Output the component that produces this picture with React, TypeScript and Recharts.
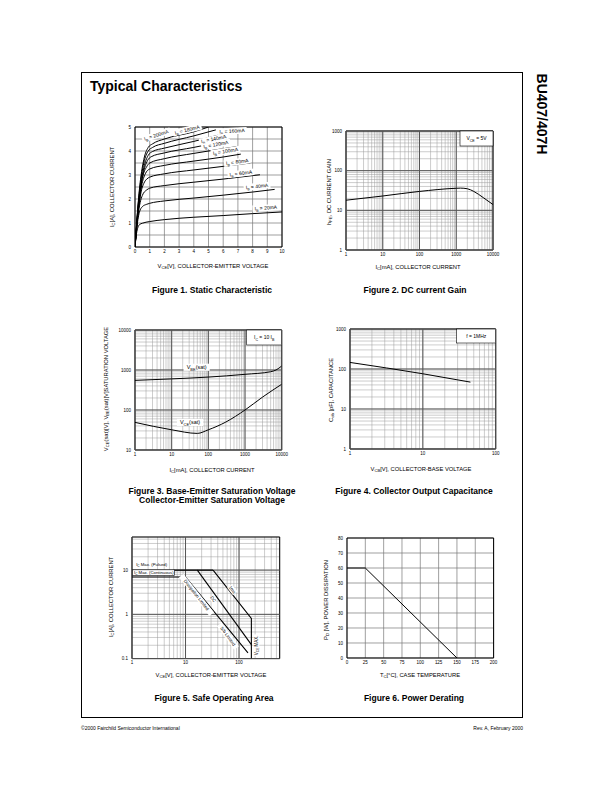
import React from 'react';
import { LineChart, Line, XAxis, YAxis, CartesianGrid, ReferenceLine, ReferenceDot, ReferenceArea } from 'recharts';

const FONT = '"Liberation Sans", Arial, Helvetica, sans-serif';

// ---------------- Figure 1: Static Characteristic ----------------
const fig1VceTicks = [0, 1, 2, 3, 4, 5, 6, 7, 8, 9, 10];
const fig1IcGrid = [0, 0.5, 1, 1.5, 2, 2.5, 3, 3.5, 4, 4.5, 5];
const fig1IcLabels = [0, 1, 2, 3, 4, 5];

const ib20 = [[0, 0], [0.1, 0.55], [0.2, 0.82], [0.3, 0.93], [0.5, 0.99], [1, 1.06], [2, 1.14], [4, 1.24], [6, 1.31], [8, 1.39], [10, 1.46]];
const ib40 = [[0, 0], [0.1, 0.65], [0.2, 1.15], [0.3, 1.45], [0.5, 1.68], [0.8, 1.78], [1, 1.82], [2, 1.92], [4, 2.04], [6, 2.16], [8, 2.29], [9.5, 2.4]];
const ib60 = [[0, 0], [0.1, 0.7], [0.2, 1.3], [0.35, 1.85], [0.5, 2.15], [0.8, 2.38], [1, 2.45], [2, 2.56], [4, 2.7], [6, 2.83], [8.5, 3.01]];
const ib80 = [[0, 0], [0.1, 0.75], [0.25, 1.6], [0.4, 2.25], [0.6, 2.65], [0.8, 2.83], [1, 2.91], [2, 3.05], [4, 3.21], [6, 3.36], [7.85, 3.5]];
const ib100 = [[0, 0], [0.1, 0.8], [0.25, 1.7], [0.45, 2.55], [0.7, 3.05], [1, 3.25], [2, 3.4], [4, 3.58], [6, 3.75], [7.2, 3.87]];
const ib120 = [[0, 0], [0.1, 0.8], [0.3, 2.0], [0.5, 2.85], [0.8, 3.35], [1, 3.5], [2, 3.68], [4, 3.9], [6.9, 4.18]];
const ib140 = [[0, 0], [0.1, 0.85], [0.3, 2.1], [0.55, 3.05], [0.85, 3.6], [1.1, 3.76], [2, 3.92], [4, 4.15], [6.4, 4.45]];
const ib160 = [[0, 0], [0.1, 0.85], [0.3, 2.2], [0.6, 3.3], [0.9, 3.82], [1.2, 3.98], [2, 4.12], [4, 4.4], [5.9, 4.7]];
const ib180 = [[0, 0], [0.1, 0.9], [0.3, 2.3], [0.6, 3.5], [0.9, 4.0], [1.2, 4.15], [2, 4.32], [4, 4.63], [5.5, 4.88]];
const ib200 = [[0, 0], [0.1, 0.9], [0.3, 2.4], [0.6, 3.65], [0.9, 4.15], [1.2, 4.3], [2, 4.5], [4, 4.8], [5.0, 5.0]];
const fig1Series = [ib20, ib40, ib60, ib80, ib100, ib120, ib140, ib160, ib180, ib200];

const fig1Tags = [
  { text: 'I_{B} = 200mA', x: 1.45, y: 4.66, angle: -18 },
  { text: 'I_{B} = 180mA', x: 3.55, y: 4.88, angle: -14 },
  { text: 'I_{B} = 160mA', x: 6.6, y: 4.83, angle: -3 },
  { text: 'I_{B} = 140mA', x: 5.35, y: 4.5, angle: -12 },
  { text: 'I_{B} = 120mA', x: 5.5, y: 4.27, angle: -10 },
  { text: 'I_{B} = 100mA', x: 6.15, y: 3.99, angle: -9 },
  { text: 'I_{B} = 80mA', x: 6.95, y: 3.55, angle: -8 },
  { text: 'I_{B} = 60mA', x: 7.2, y: 3.07, angle: -7 },
  { text: 'I_{B} = 40mA', x: 8.3, y: 2.53, angle: -6 },
  { text: 'I_{B} = 20mA', x: 8.9, y: 1.63, angle: -4 },
];

// ---------------- Figure 2: DC current gain ----------------
const fig2IcLabels = [1, 10, 100, 1000, 10000];
const fig2HfeLabels = [1, 10, 100, 1000];
const fig2Hfe = [[1, 18], [10, 23], [100, 30], [1000, 36], [1300, 36.3], [2000, 35], [3000, 30], [5400, 21], [10000, 14]];

// ---------------- Figure 3: Saturation voltages ----------------
const fig3IcLabels = [1, 10, 100, 1000, 10000];
const fig3VLabels = [10, 100, 1000, 10000];
const fig3Vbe = [[1, 550], [10, 600], [100, 665], [1000, 780], [5000, 905], [7000, 1000], [10000, 1260]];
const fig3Vce = [[1, 49], [10, 32], [50, 26], [100, 32], [300, 50], [1000, 100], [3000, 210], [10000, 440]];

// ---------------- Figure 4: Output capacitance ----------------
const fig4VcbLabels = [1, 10, 100];
const fig4CobLabels = [1, 10, 100, 1000];
const fig4Cob = [[1, 146], [10, 76], [45, 47]];

// ---------------- Figure 5: Safe operating area ----------------
const fig5VceLabels = [1, 10, 100];
const fig5IcLabels = [0.1, 1, 10];
const soaDc = [[1, 7], [10, 7], [147, 0.134]];
const soaPulsedMax = [[6, 10], [32.7, 10]];
const soaMid = [[16.6, 10], [170, 0.207]];
const soaRight = [[32.7, 10], [170, 0.805], [170, 0.1]];

// ---------------- Figure 6: Power derating ----------------
const fig6TcTicks = [0, 25, 50, 75, 100, 125, 150, 175, 200];
const fig6PdTicks = [0, 10, 20, 30, 40, 50, 60, 70, 80];
const fig6Pd = [[0, 60], [25, 60], [150, 0]];

// ---------------- helpers ----------------
const pts = (arr: number[][]) => arr.map(([x, y]) => ({ x, y }));

function logTicks(lo: number, hi: number) {
  const out: number[] = [];
  for (let e = Math.floor(Math.log10(lo)); e <= Math.ceil(Math.log10(hi)); e++) {
    const d = Math.pow(10, e);
    for (let m = 1; m <= 9; m++) {
      const v = Number((d * m).toPrecision(6));
      if (v >= lo * 0.9999 && v <= hi * 1.0001) out.push(v);
    }
  }
  return out;
}

function svgRich(s: string, fs: number) {
  const parts = s.split(/_\{([^}]*)\}/);
  const nodes: any[] = [];
  let low = false;
  parts.forEach((p, i) => {
    if (!p) return;
    const isSub = i % 2 === 1;
    let dy: number | undefined;
    if (isSub && !low) { dy = fs * 0.3; low = true; }
    else if (!isSub && low) { dy = -fs * 0.3; low = false; }
    nodes.push(<tspan key={i} dy={dy} fontSize={isSub ? fs * 0.72 : fs}>{p}</tspan>);
  });
  return nodes;
}

function htmlRich(s: string) {
  const parts = s.split(/_\{([^}]*)\}/);
  return parts.map((p, i) =>
    i % 2 ? <span key={i} style={{ fontSize: '0.72em', position: 'relative', top: '0.3em' }}>{p}</span> : <span key={i}>{p}</span>
  );
}

const plainLen = (s: string) => s.replace(/_\{|\}/g, '').length;

type TagOpt = { angle?: number; fs?: number; box?: boolean; border?: boolean; anchor?: 'start' | 'middle'; w?: number; h?: number };
function makeTag(text: string, o: TagOpt = {}) {
  return (p: any) => {
    const cx = p.cx, cy = p.cy;
    if (cx == null || cy == null || isNaN(cx) || isNaN(cy)) return <g />;
    const fs = o.fs ?? 5;
    const w = o.w ?? plainLen(text) * fs * 0.55 + 2;
    const h = o.h ?? fs * 1.3;
    const anchor = o.anchor ?? 'middle';
    const rx = anchor === 'middle' ? cx - w / 2 : cx;
    const tx = anchor === 'middle' ? cx : cx + 1.5;
    return (
      <g transform={`rotate(${o.angle ?? 0} ${cx} ${cy})`}>
        {o.box !== false && (
          <rect x={rx} y={cy - h / 2} width={w} height={h} fill="#fff" stroke={o.border ? '#000' : 'none'} strokeWidth={0.6} />
        )}
        <text x={tx} y={cy} dy={fs * 0.35} textAnchor={anchor} fontSize={fs} fontFamily={FONT} fill="#000">
          {svgRich(text, fs)}
        </text>
      </g>
    );
  };
}

type PlotProps = {
  rect: [number, number, number, number];
  xDomain: [number, number];
  yDomain: [number, number];
  xLog?: boolean;
  yLog?: boolean;
  xTicks: number[];
  yTicks: number[];
  xLabels: number[];
  yLabels: number[];
  xMajor?: number[];
  yMajor?: number[];
  gridColor?: string;
  gridWidth?: number;
  children?: React.ReactNode;
};

function Plot(p: PlotProps) {
  const [x0, y0, x1, y1] = p.rect;
  const YW = 24, XH = 14, MT = 4, MR = 14;
  const w = x1 - x0 + YW + MR;
  const h = y1 - y0 + MT + XH;
  const tickStyle = { fontSize: 4.5, fill: '#000', fontFamily: FONT };
  return (
    <div style={{ position: 'absolute', left: x0 - YW, top: y0 - MT }}>
      <LineChart width={w} height={h} margin={{ top: MT, right: MR, bottom: 0, left: 0 }}>
        <CartesianGrid stroke={p.gridColor ?? '#9a9a9a'} strokeWidth={p.gridWidth ?? 0.5} />
        {(p.xMajor ?? []).map((v) => (
          <ReferenceLine key={'xm' + v} x={v} stroke="#555" strokeWidth={1} />
        ))}
        {(p.yMajor ?? []).map((v) => (
          <ReferenceLine key={'ym' + v} y={v} stroke="#555" strokeWidth={1} />
        ))}
        <XAxis
          type="number"
          dataKey="x"
          scale={p.xLog ? 'log' : 'linear'}
          domain={p.xDomain}
          ticks={p.xTicks}
          interval={0}
          allowDataOverflow
          tickFormatter={(v: number) => (p.xLabels.includes(v) ? String(v) : '')}
          tick={tickStyle}
          tickLine={false}
          axisLine={false}
          tickSize={1}
          tickMargin={1.5}
          height={XH}
        />
        <YAxis
          type="number"
          dataKey="y"
          scale={p.yLog ? 'log' : 'linear'}
          domain={p.yDomain}
          ticks={p.yTicks}
          interval={0}
          allowDataOverflow
          tickFormatter={(v: number) => (p.yLabels.includes(v) ? String(v) : '')}
          tick={tickStyle}
          tickLine={false}
          axisLine={false}
          tickSize={1}
          tickMargin={3}
          width={YW}
        />
        {p.children}
        <ReferenceArea
          x1={p.xDomain[0]}
          x2={p.xDomain[1]}
          y1={p.yDomain[0]}
          y2={p.yDomain[1]}
          fill="none"
          fillOpacity={0}
          stroke="#000"
          strokeWidth={1}
          ifOverflow="visible"
        />
      </LineChart>
    </div>
  );
}

const line = (key: string, data: number[][], type: any = 'monotone', width = 1) => (
  <Line
    key={key}
    data={pts(data)}
    dataKey="y"
    type={type}
    stroke="#000"
    strokeWidth={width}
    dot={false}
    activeDot={false}
    isAnimationActive={false}
  />
);

const dotTag = (key: string, x: number, y: number, text: string, o: TagOpt) => (
  <ReferenceDot key={key} x={x} y={y} r={0} ifOverflow="visible" shape={makeTag(text, o)} {...({ zIndex: 2500 } as any)} />
);

function T({ x, y, s, fs, bold, align = 'center', rot }: { x: number; y: number; s: string; fs: number; bold?: boolean; align?: 'left' | 'center' | 'right'; rot?: number }) {
  const tx = align === 'center' ? '-50%' : align === 'right' ? '-100%' : '0';
  return (
    <div
      style={{
        position: 'absolute',
        left: x,
        top: y,
        transform: `translate(${tx},-50%)${rot ? ` rotate(${rot}deg)` : ''}`,
        fontSize: fs,
        fontWeight: bold ? 700 : 400,
        whiteSpace: 'nowrap',
        lineHeight: 1,
        fontFamily: FONT,
        color: '#000',
      }}
    >
      {htmlRich(s)}
    </div>
  );
}

export default function App() {
  const f2x = logTicks(1, 10000);
  const f2y = logTicks(1, 1000);
  const f3x = logTicks(1, 10000);
  const f3y = logTicks(10, 10000);
  const f4x = logTicks(1, 100);
  const f4y = logTicks(1, 1000);
  const f5x = logTicks(1, 575);
  const f5y = logTicks(0.1, 56);
  const AX = 5.8;
  const CAP = 8.5;

  return (
    <div style={{ position: 'absolute', left: 0, top: 0, width: 612, height: 792, background: '#fff', fontFamily: FONT, overflow: 'hidden' }}>
      {/* page frame */}
      <div style={{ position: 'absolute', left: 81, top: 72, width: 442, height: 646, border: '1px solid #000', boxSizing: 'border-box' }} />
      <T x={90} y={86} s="Typical Characteristics" fs={14} bold align="left" />
      <T x={542} y={113.5} s="BU407/407H" fs={14} bold rot={90} />

      {/* Figure 1 */}
      <Plot rect={[134.7, 126.7, 281.7, 246.7]} xDomain={[0, 10]} yDomain={[0, 5]} xTicks={fig1VceTicks} yTicks={fig1IcGrid}
        xLabels={fig1VceTicks} yLabels={fig1IcLabels} gridColor="#777" gridWidth={0.7}>
        {fig1Series.map((s, i) => line('ib' + i, s))}
        {fig1Tags.map((t, i) => dotTag('t1' + i, t.x, t.y, t.text, { angle: t.angle, fs: 5 }))}
      </Plot>
      <T x={213} y={267} s="V_{CE}[V], COLLECTOR-EMITTER VOLTAGE" fs={AX} />
      <T x={113} y={187} s="I_{C}[A], COLLECTOR CURRENT" fs={AX} rot={-90} />
      <T x={212} y={290} s="Figure 1. Static Characteristic" fs={CAP} bold />

      {/* Figure 2 */}
      <Plot rect={[346, 131, 493, 250]} xDomain={[1, 10000]} yDomain={[1, 1000]} xLog yLog xTicks={f2x} yTicks={f2y}
        xLabels={fig2IcLabels} yLabels={fig2HfeLabels} xMajor={fig2IcLabels} yMajor={fig2HfeLabels}>
        {line('hfe', fig2Hfe)}
        {dotTag('b2', 3556, 647, 'V_{CE} = 5V', { fs: 5, border: true, w: 33, h: 15 })}
      </Plot>
      <T x={418} y={268} s="I_{C}[mA], COLLECTOR CURRENT" fs={AX} />
      <T x={330} y={192} s="h_{FE}, DC CURRENT GAIN" fs={AX} rot={-90} />
      <T x={415} y={290} s="Figure 2. DC current Gain" fs={CAP} bold />

      {/* Figure 3 */}
      <Plot rect={[135, 330, 281.7, 450]} xDomain={[1, 10000]} yDomain={[10, 10000]} xLog yLog xTicks={f3x} yTicks={f3y}
        xLabels={fig3IcLabels} yLabels={fig3VLabels} xMajor={fig3IcLabels} yMajor={fig3VLabels}>
        {line('vbe', fig3Vbe)}
        {line('vce', fig3Vce)}
        {dotTag('l3a', 48, 1170, 'V_{BE}(sat)', { fs: 5.5 })}
        {dotTag('l3b', 31.6, 49, 'V_{CE}(sat)', { fs: 5.5 })}
        {dotTag('b3', 3335, 6494, 'I_{C} = 10 I_{B}', { fs: 5, border: true, w: 35, h: 15 })}
      </Plot>
      <T x={212} y={470.5} s="I_{C}[mA], COLLECTOR CURRENT" fs={AX} />
      <T x={107} y={389} s="V_{CE}(sat)[V], V_{BE}(sat)[V]SATURATION VOLTAGE" fs={AX} rot={-90} />
      <T x={212} y={491} s="Figure 3. Base-Emitter Saturation Voltage" fs={CAP} bold />
      <T x={212} y={500} s="Collector-Emitter Saturation Voltage" fs={CAP} bold />

      {/* Figure 4 */}
      <Plot rect={[350, 329.3, 495.7, 449.3]} xDomain={[1, 100]} yDomain={[1, 1000]} xLog yLog xTicks={f4x} yTicks={f4y}
        xLabels={fig4VcbLabels} yLabels={fig4CobLabels} xMajor={fig4VcbLabels} yMajor={fig4CobLabels}>
        {line('cob', fig4Cob)}
        {dotTag('b4', 54, 668, 'f = 1MHz', { fs: 5, border: true, w: 39, h: 14 })}
      </Plot>
      <T x={421} y={470} s="V_{CB}[V], COLLECTOR-BASE  VOLTAGE" fs={AX} />
      <T x={331.5} y={390} s="C_{ob} [pF], CAPACITANCE" fs={AX} rot={-90} />
      <T x={414} y={491} s="Figure 4. Collector Output Capacitance" fs={CAP} bold />

      {/* Figure 5 */}
      <Plot rect={[132.3, 536.7, 280, 658.3]} xDomain={[1, 575]} yDomain={[0.1, 56]} xLog yLog xTicks={f5x} yTicks={f5y}
        xLabels={fig5VceLabels} yLabels={fig5IcLabels} xMajor={fig5VceLabels} yMajor={fig5IcLabels}>
        {line('dc', soaDc, 'linear', 1.1)}
        {line('pm', soaPulsedMax, 'linear', 1.1)}
        {line('mid', soaMid, 'linear', 1.1)}
        {line('rt', soaRight, 'linear', 1.1)}
        {dotTag('l5a', 1.12, 13.7, 'I_{C} Max. (Pulsed)', { fs: 4.3, anchor: 'start', box: false })}
        {dotTag('l5b', 1.02, 8.8, 'I_{C} Max. (Continuous)', { fs: 4.3, anchor: 'start', border: true, w: 42, h: 5.5 })}
        {dotTag('l5c', 16, 2.75, 'Dissipation Limited', { fs: 4.5, angle: 51.6 })}
        {dotTag('l5d', 62, 0.32, 'S/b Limited', { fs: 4.5, angle: 54 })}
        {dotTag('l5e', 33, 2.2, 'DC', { fs: 4.5, angle: 54 })}
        {dotTag('l5f', 75, 3.6, '1ms', { fs: 4.5, angle: 51.5 })}
        {dotTag('l5g', 211, 0.2, 'V_{CE} MAX.', { fs: 4.5, angle: -90 })}
      </Plot>
      <T x={211} y={676} s="V_{CE}[V], COLLECTOR-EMITTER VOLTAGE" fs={AX} />
      <T x={112} y={597} s="I_{C}[A], COLLECTOR CURRENT" fs={AX} rot={-90} />
      <T x={214} y={698} s="Figure 5. Safe Operating Area" fs={CAP} bold />

      {/* Figure 6 */}
      <Plot rect={[346.7, 537.7, 493.3, 657.7]} xDomain={[0, 200]} yDomain={[0, 80]} xTicks={fig6TcTicks} yTicks={fig6PdTicks}
        xLabels={fig6TcTicks} yLabels={fig6PdTicks} gridColor="#777" gridWidth={0.7}>
        {line('pd', fig6Pd, 'linear', 1)}
      </Plot>
      <T x={420} y={676} s="T_{C}[°C], CASE TEMPERATURE" fs={AX} />
      <T x={326.5} y={600} s="P_{D} [W], POWER DISSIPATION" fs={AX} rot={-90} />
      <T x={414} y={698} s="Figure 6. Power Derating" fs={CAP} bold />

      {/* footer */}
      <T x={81} y={728} s="©2000 Fairchild Semiconductor International" fs={5} align="left" />
      <T x={523} y={728} s="Rev. A, February 2000" fs={5} align="right" />
    </div>
  );
}
